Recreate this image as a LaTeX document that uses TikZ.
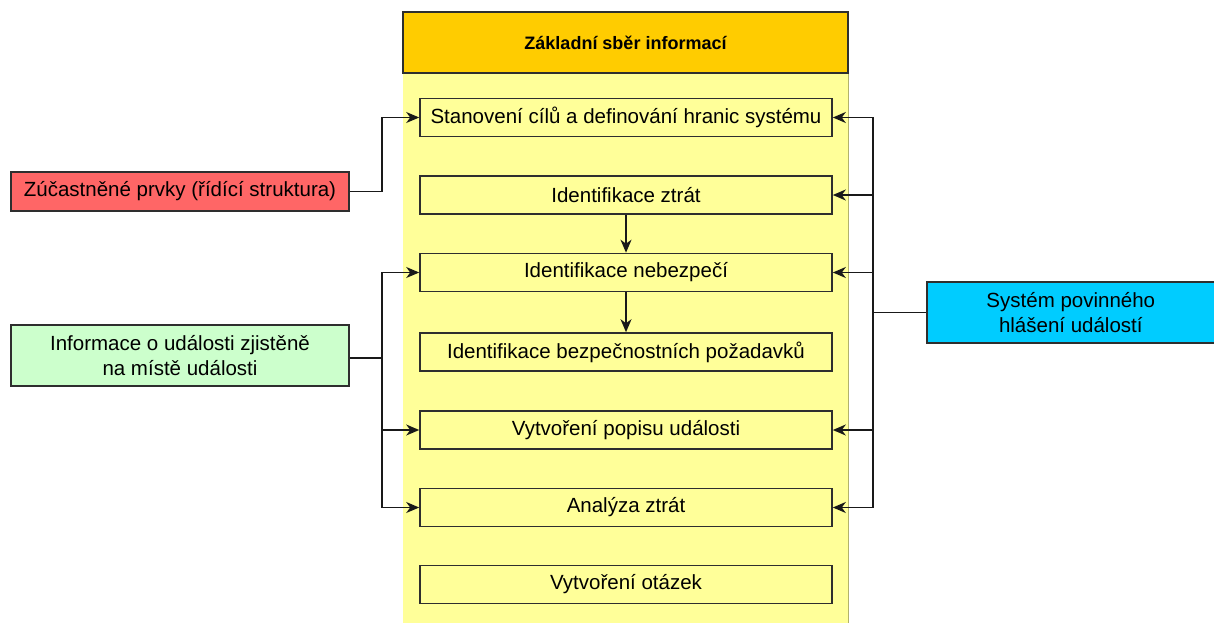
\documentclass[tikz,border=0pt]{standalone}
\usepackage{fontspec}
\setmainfont{Liberation Sans}
\usetikzlibrary{arrows.meta}
\definecolor{headfill}{HTML}{FFCC00}
\definecolor{colfill}{HTML}{FFFF99}
\definecolor{redfill}{HTML}{FF6666}
\definecolor{greenfill}{HTML}{CCFFCC}
\definecolor{bluefill}{HTML}{00CCFF}
\definecolor{edge}{HTML}{2E2E2E}
\begin{document}
\begin{tikzpicture}[x=1pt,y=-1pt,
  txt/.style={font=\fontsize{20.5}{25.5}\selectfont, text=black},
  stepbox/.style={txt, draw=edge, line width=1.6pt, fill=colfill, minimum width=412pt, minimum height=38pt, inner sep=0pt, anchor=center},
  sidebox/.style={txt, draw=edge, line width=1.6pt, minimum height=39pt, inner sep=0pt, align=center},
  conn/.style={draw=black!90, line width=1.6pt},
  arr/.style={conn, -{Stealth[length=13pt, width=11pt, inset=4pt]}}]
\useasboundingbox (0,0) rectangle (1214,623);

% yellow column with its header
\fill[colfill] (403,12) rectangle (848,623);
\draw[draw=colfill!70!black, line width=1pt] (848,73) -- (848,623);
\node[draw=edge, line width=1.6pt, fill=headfill, minimum width=445pt, minimum height=61pt, inner sep=0pt,
      font=\fontsize{18}{22}\selectfont\bfseries] (head) at (625.5,42.5) {Základní sběr informací};

% steps
\node[stepbox] (s1) at (626,117.5) {Stanovení cílů a definování hranic systému};
\node[stepbox] (s2) at (626,195) {Identifikace ztrát};
\node[stepbox] (s3) at (626,272.5) {Identifikace nebezpečí};
\node[stepbox] (s4) at (626,352) {Identifikace bezpečnostních požadavků};
\node[stepbox] (s5) at (626,430) {Vytvoření popisu události};
\node[stepbox] (s6) at (626,507.5) {Analýza ztrát};
\node[stepbox] (s7) at (626,584.5) {Vytvoření otázek};

% inputs
\node[sidebox, fill=redfill, minimum width=338pt] (red) at (180,191.5) {Zúčastněné prvky (řídící struktura)};
\node[sidebox, fill=greenfill, minimum width=338pt, minimum height=61pt] (green) at (180,355.5) {Informace o události zjistěně\\na místě události};
\node[sidebox, fill=bluefill, minimum width=300pt, minimum height=61pt, anchor=west] (blue) at (926,312.5) {\hspace*{-12pt}Systém povinného\\\hspace*{-12pt}hlášení událostí};

% junction points of the connector trunks
\coordinate (lr) at (382,191.5);
\coordinate (lg) at (382,358);
\coordinate (rb) at (873,312.5);

% red input
\draw[arr] (red.east) -- (lr) |- (s1.west);

% green input
\draw[conn] (green.east |- lg) -- (lg);
\draw[arr] (lg) |- (s3.west);
\draw[arr] (lg) |- (s5.west);
\draw[arr] (lg) |- (s6.west);

% blue input
\draw[conn] (blue.west) -- (rb);
\draw[arr] (rb) |- (s1.east);
\draw[arr] (rb) |- (s2.east);
\draw[arr] (rb) |- (s3.east);
\draw[arr] (rb) |- (s5.east);
\draw[arr] (rb) |- (s6.east);

% sequence inside the column
\draw[arr] (s2.south) -- (s3.north);
\draw[arr] (s3.south) -- (s4.north);
\end{tikzpicture}
\end{document}
